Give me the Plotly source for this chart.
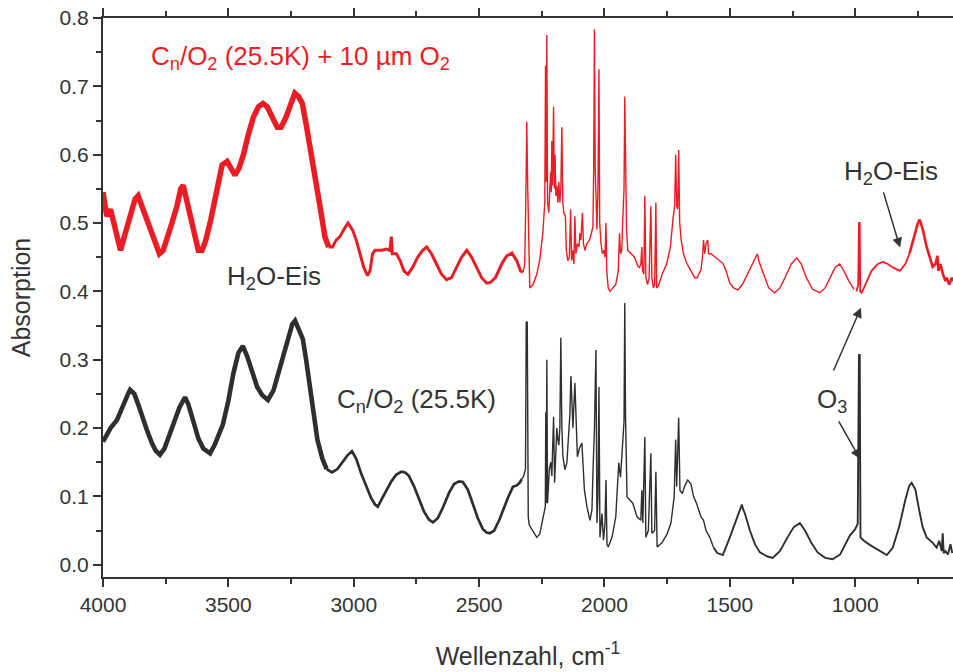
import plotly.graph_objects as go

# ---------------- data ----------------
red_wn = [4000, 3985, 3970, 3952, 3940, 3930, 3915, 3900, 3885, 3872, 3860, 3845, 3830, 3813, 3795, 3775,
          3760, 3745, 3725, 3705, 3690, 3680, 3665, 3650, 3635, 3620, 3605, 3590, 3570, 3555, 3540, 3525,
          3505, 3490, 3474, 3458, 3440, 3420, 3400, 3380, 3362, 3345, 3325, 3305, 3290, 3270, 3250, 3235,
          3220, 3205, 3190, 3175, 3160, 3143, 3128, 3115, 3100, 3085, 3070, 3055, 3040, 3023, 3005, 2990,
          2975, 2960, 2945, 2935, 2925, 2915, 2890, 2870, 2856, 2850, 2846, 2830, 2815, 2800, 2784, 2765,
          2745, 2725, 2709, 2690, 2670, 2650, 2630, 2610, 2590, 2570, 2549, 2530, 2510, 2490, 2470, 2455,
          2435, 2410, 2390, 2369, 2350, 2335, 2325, 2318, 2313, 2310, 2306, 2302, 2298, 2285, 2270, 2258,
          2246, 2238, 2235, 2233, 2230, 2227, 2222, 2218, 2214, 2212, 2210, 2207, 2203, 2200, 2197, 2194,
          2190, 2186, 2182, 2178, 2174, 2170, 2166, 2162, 2156, 2152, 2146, 2140, 2135, 2131, 2126, 2122,
          2118, 2114, 2108, 2102, 2098, 2094, 2088, 2084, 2078, 2070, 2060, 2052, 2046, 2043, 2040, 2037,
          2033, 2030, 2026, 2022, 2019, 2014, 2008, 2002, 1998, 1994, 1991, 1985, 1978, 1965, 1955, 1945,
          1940, 1936, 1931, 1927, 1922, 1919, 1916, 1912, 1907, 1895, 1880, 1867, 1860, 1855, 1851, 1848,
          1843, 1839, 1835, 1828, 1822, 1815, 1811, 1805, 1800, 1795, 1792, 1785, 1770, 1752, 1737, 1727,
          1720, 1716, 1712, 1708, 1704, 1700, 1694, 1685, 1672, 1655, 1640, 1630, 1615, 1608, 1605, 1600,
          1595, 1588, 1585, 1575, 1565, 1552, 1540, 1528, 1515, 1500, 1485, 1468, 1450, 1430, 1410, 1395,
          1390, 1385, 1365, 1345, 1321, 1300, 1280, 1255, 1233, 1215, 1195, 1170, 1141, 1120, 1100, 1080,
          1062, 1045, 1025, 1005, 995, 988, 985, 982, 980, 975, 965, 954, 935, 910, 890, 870,
          850, 822, 800, 783, 765, 750, 743, 730, 715, 700, 691, 680, 672, 668, 660, 650,
          640, 635, 625, 615, 610]
red_abs = [0.545, 0.51, 0.52, 0.49, 0.47, 0.46, 0.48, 0.50, 0.52, 0.535, 0.54, 0.525, 0.51, 0.49, 0.47, 0.455,
           0.46, 0.475, 0.50, 0.525, 0.55, 0.555, 0.53, 0.505, 0.48, 0.46, 0.46, 0.475, 0.505, 0.535, 0.565, 0.585,
           0.59, 0.58, 0.57, 0.58, 0.60, 0.63, 0.655, 0.67, 0.675, 0.67, 0.655, 0.64, 0.64, 0.655, 0.675, 0.69,
           0.685, 0.675, 0.645, 0.615, 0.58, 0.545, 0.51, 0.48, 0.465, 0.465, 0.475, 0.48, 0.49, 0.50, 0.49, 0.475,
           0.455, 0.435, 0.423, 0.43, 0.455, 0.46, 0.46, 0.462, 0.46, 0.48, 0.455, 0.455, 0.445, 0.43, 0.425, 0.435,
           0.45, 0.46, 0.465, 0.455, 0.44, 0.425, 0.417, 0.42, 0.435, 0.45, 0.46, 0.45, 0.435, 0.42, 0.412, 0.413,
           0.42, 0.44, 0.452, 0.456, 0.445, 0.43, 0.428, 0.44, 0.55, 0.648, 0.55, 0.44, 0.405, 0.41, 0.425, 0.446,
           0.485, 0.53, 0.73, 0.56, 0.775, 0.53, 0.515, 0.55, 0.575, 0.545, 0.62, 0.555, 0.67, 0.55, 0.60, 0.54,
           0.555, 0.53, 0.56, 0.53, 0.55, 0.64, 0.53, 0.515, 0.51, 0.46, 0.445, 0.45, 0.52, 0.445, 0.46, 0.44,
           0.51, 0.455, 0.47, 0.465, 0.485, 0.475, 0.515, 0.47, 0.46, 0.47, 0.475, 0.485, 0.495, 0.58, 0.783, 0.58,
           0.53, 0.49, 0.55, 0.725, 0.50, 0.47, 0.455, 0.46, 0.45, 0.50, 0.43, 0.405, 0.40, 0.405, 0.41, 0.43,
           0.485, 0.455, 0.46, 0.505, 0.55, 0.685, 0.56, 0.49, 0.46, 0.455, 0.45, 0.437, 0.435, 0.44, 0.465, 0.43,
           0.425, 0.54, 0.42, 0.41, 0.42, 0.525, 0.42, 0.405, 0.41, 0.53, 0.405, 0.408, 0.425, 0.44, 0.465, 0.505,
           0.525, 0.60, 0.525, 0.52, 0.607, 0.50, 0.475, 0.455, 0.441, 0.43, 0.42, 0.42, 0.432, 0.455, 0.475, 0.455,
           0.47, 0.475, 0.455, 0.455, 0.452, 0.448, 0.445, 0.441, 0.43, 0.412, 0.405, 0.402, 0.41, 0.425, 0.44, 0.45,
           0.455, 0.445, 0.425, 0.405, 0.398, 0.405, 0.42, 0.44, 0.449, 0.44, 0.42, 0.403, 0.398, 0.405, 0.42, 0.435,
           0.44, 0.43, 0.415, 0.403, 0.40, 0.41, 0.50, 0.50, 0.40, 0.398, 0.405, 0.415, 0.43, 0.44, 0.443, 0.44,
           0.435, 0.43, 0.44, 0.456, 0.48, 0.50, 0.505, 0.49, 0.465, 0.445, 0.436, 0.44, 0.452, 0.43, 0.44, 0.425,
           0.415, 0.42, 0.41, 0.42, 0.415]

blk_wn = [4000, 3985, 3970, 3944, 3920, 3900, 3892, 3875, 3860, 3840, 3825, 3805, 3790, 3773, 3755, 3735,
          3715, 3695, 3673, 3660, 3640, 3620, 3600, 3573, 3555, 3540, 3522, 3500, 3480, 3460, 3442, 3425,
          3405, 3385, 3365, 3342, 3320, 3300, 3280, 3260, 3245, 3234, 3220, 3203, 3190, 3175, 3160, 3145,
          3125, 3108, 3087, 3065, 3045, 3025, 3007, 2990, 2970, 2950, 2930, 2915, 2904, 2890, 2870, 2850,
          2830, 2810, 2795, 2780, 2760, 2740, 2720, 2700, 2684, 2665, 2645, 2620, 2600, 2580, 2565, 2545,
          2525, 2505, 2485, 2470, 2457, 2440, 2420, 2400, 2385, 2365, 2350, 2338, 2330, 2322, 2315, 2312,
          2308, 2304, 2300, 2285, 2270, 2258, 2250, 2242, 2236, 2234, 2232, 2230, 2227, 2220, 2214, 2210,
          2203, 2199, 2194, 2190, 2186, 2182, 2178, 2174, 2170, 2166, 2158, 2150, 2138, 2134, 2130, 2126,
          2118, 2114, 2108, 2100, 2090, 2080, 2070, 2058, 2050, 2046, 2040, 2034, 2030, 2026, 2022, 2018,
          2010, 2004, 1998, 1994, 1990, 1985, 1970, 1955, 1943, 1936, 1930, 1922, 1919, 1916, 1910, 1900,
          1887, 1870, 1855, 1851, 1847, 1839, 1835, 1825, 1815, 1811, 1800, 1795, 1790, 1771, 1750, 1735,
          1722, 1716, 1712, 1704, 1699, 1690, 1680, 1668, 1655, 1645, 1633, 1615, 1605, 1595, 1580, 1565,
          1550, 1528, 1515, 1500, 1480, 1460, 1452, 1448, 1440, 1420, 1400, 1380, 1350, 1329, 1300, 1270,
          1245, 1221, 1200, 1175, 1150, 1120, 1090, 1060, 1040, 1021, 1000, 990, 985, 982, 979, 965,
          942, 910, 874, 850, 825, 800, 785, 775, 760, 745, 731, 715, 700, 691, 675, 665,
          655, 651, 647, 640, 630, 620, 613]
blk_abs = [0.18, 0.19, 0.20, 0.212, 0.235, 0.25, 0.256, 0.25, 0.235, 0.21, 0.197, 0.178, 0.167, 0.161, 0.17, 0.19,
           0.21, 0.23, 0.245, 0.235, 0.21, 0.185, 0.17, 0.163, 0.175, 0.19, 0.205, 0.24, 0.28, 0.31, 0.32, 0.305,
           0.28, 0.26, 0.248, 0.241, 0.255, 0.28, 0.31, 0.335, 0.352, 0.357, 0.345, 0.33, 0.30, 0.26, 0.22, 0.183,
           0.155, 0.14, 0.135, 0.14, 0.15, 0.16, 0.166, 0.155, 0.133, 0.114, 0.097, 0.088, 0.085, 0.095, 0.108, 0.122,
           0.132, 0.136, 0.135, 0.13, 0.115, 0.095, 0.078, 0.066, 0.062, 0.068, 0.083, 0.105, 0.118, 0.122, 0.121, 0.11,
           0.09, 0.068, 0.052, 0.047, 0.046, 0.05, 0.065, 0.085, 0.098, 0.114, 0.116, 0.12, 0.125, 0.13, 0.14, 0.355,
           0.355, 0.07, 0.058, 0.048, 0.040, 0.045, 0.06, 0.07, 0.085, 0.223, 0.09, 0.30, 0.09, 0.14, 0.15, 0.13,
           0.216, 0.12, 0.17, 0.20, 0.183, 0.175, 0.20, 0.332, 0.202, 0.16, 0.139, 0.149, 0.22, 0.276, 0.241, 0.20,
           0.266, 0.226, 0.158, 0.17, 0.178, 0.109, 0.085, 0.065, 0.08, 0.134, 0.20, 0.314, 0.061, 0.10, 0.26, 0.04,
           0.075, 0.036, 0.06, 0.124, 0.03, 0.026, 0.04, 0.07, 0.149, 0.128, 0.172, 0.21, 0.383, 0.216, 0.099, 0.095,
           0.09, 0.07, 0.065, 0.109, 0.061, 0.187, 0.04, 0.05, 0.163, 0.046, 0.05, 0.136, 0.026, 0.032, 0.045, 0.061,
           0.099, 0.183, 0.114, 0.215, 0.109, 0.104, 0.115, 0.124, 0.118, 0.10, 0.09, 0.07, 0.065, 0.05, 0.04, 0.025,
           0.017, 0.014, 0.025, 0.04, 0.06, 0.08, 0.088, 0.082, 0.075, 0.05, 0.03, 0.018, 0.012, 0.01, 0.02, 0.04,
           0.055, 0.061, 0.05, 0.032, 0.018, 0.01, 0.008, 0.015, 0.03, 0.043, 0.052, 0.06, 0.307, 0.307, 0.04, 0.035,
           0.029, 0.022, 0.014, 0.025, 0.055, 0.095, 0.115, 0.12, 0.11, 0.08, 0.055, 0.04, 0.035, 0.032, 0.025, 0.035,
           0.02, 0.046, 0.017, 0.02, 0.015, 0.03, 0.017]

x_ticks = [4000, 3500, 3000, 2500, 2000, 1500, 1000]
y_ticks = [0.0, 0.1, 0.2, 0.3, 0.4, 0.5, 0.6, 0.7, 0.8]

RED = "#ec1c24"
BLK = "#2e2e2e"
TXT = "#333333"
FONT = "Liberation Sans, Arial, sans-serif"

fig = go.Figure()


def add_segments(wn, ab, color, bands):
    # bands: list of (hi, lo, width) in wavenumber
    for hi, lo, w in bands:
        xs = [x for x in wn if lo <= x <= hi]
        ys = [y for x, y in zip(wn, ab) if lo <= x <= hi]
        fig.add_trace(go.Scatter(x=xs, y=ys, mode="lines", showlegend=False, hoverinfo="skip",
                                 line=dict(color=color, width=w)))


add_segments(red_wn, red_abs, RED, [(4000, 3100, 5.5), (3100, 2325, 3.0), (2325, 1000, 1.4),
                                    (1000, 780, 1.8), (783, 600, 2.6)])
add_segments(blk_wn, blk_abs, BLK, [(4000, 3100, 4.6), (3108, 2330, 2.7), (2330, 1560, 1.4),
                                    (1565, 600, 1.9)])

ann = []


def label(text, x, y, color=TXT, size=26):
    ann.append(dict(x=x, y=y, xref="x", yref="y", text=text, showarrow=False, xanchor="left",
                    yanchor="middle", font=dict(family=FONT, size=size, color=color)))


label("C<sub>n</sub>/O<sub>2</sub> (25.5K) + 10 µm O<sub>2</sub>", 3817, 0.742, color=RED)
label("H<sub>2</sub>O-Eis", 3513, 0.420)
label("C<sub>n</sub>/O<sub>2</sub> (25.5K)", 3075, 0.240)
label("H<sub>2</sub>O-Eis", 1053, 0.574)
label("O<sub>3</sub>", 1161, 0.241)


def arrow(x0, y0, x1, y1):
    ann.append(dict(x=x1, y=y1, ax=x0, ay=y0, xref="x", yref="y", axref="x", ayref="y", text="",
                    showarrow=True, arrowhead=2, arrowsize=1.3, arrowwidth=1.5, arrowcolor=TXT))


arrow(889, 0.547, 821, 0.464)
arrow(1089, 0.282, 977, 0.376)
arrow(1069, 0.212, 981, 0.155)

fig.update_layout(
    width=953, height=672,
    margin=dict(l=103, r=0, t=18, b=95),
    paper_bgcolor="white", plot_bgcolor="white",
    annotations=ann,
    font=dict(family=FONT, color=TXT),
    xaxis=dict(range=[4000, 610], tickvals=x_ticks, ticktext=[str(v) for v in x_ticks],
               showgrid=False, zeroline=False, showline=True, linecolor=TXT, linewidth=2,
               ticks="outside", ticklen=8, tickwidth=1.5, tickcolor=TXT, mirror="ticks",
               minor=dict(dtick=250, ticks="outside", ticklen=5, tickwidth=1.5, tickcolor=TXT),
               tickfont=dict(family=FONT, size=21, color=TXT),
               title=dict(text="Wellenzahl, cm<sup>-1</sup>", font=dict(family=FONT, size=25, color=TXT),
                          standoff=32)),
    yaxis=dict(range=[-0.018, 0.8], tickvals=y_ticks, ticktext=["%.1f" % v for v in y_ticks],
               showgrid=False, zeroline=False, showline=True, linecolor=TXT, linewidth=2,
               ticks="outside", ticklen=8, tickwidth=1.5, tickcolor=TXT,
               minor=dict(dtick=0.05, ticks="outside", ticklen=5, tickwidth=1.5, tickcolor=TXT),
               tickfont=dict(family=FONT, size=21, color=TXT),
               title=dict(text="Absorption", font=dict(family=FONT, size=25, color=TXT), standoff=22)),
)

fig.write_html("out.html")
